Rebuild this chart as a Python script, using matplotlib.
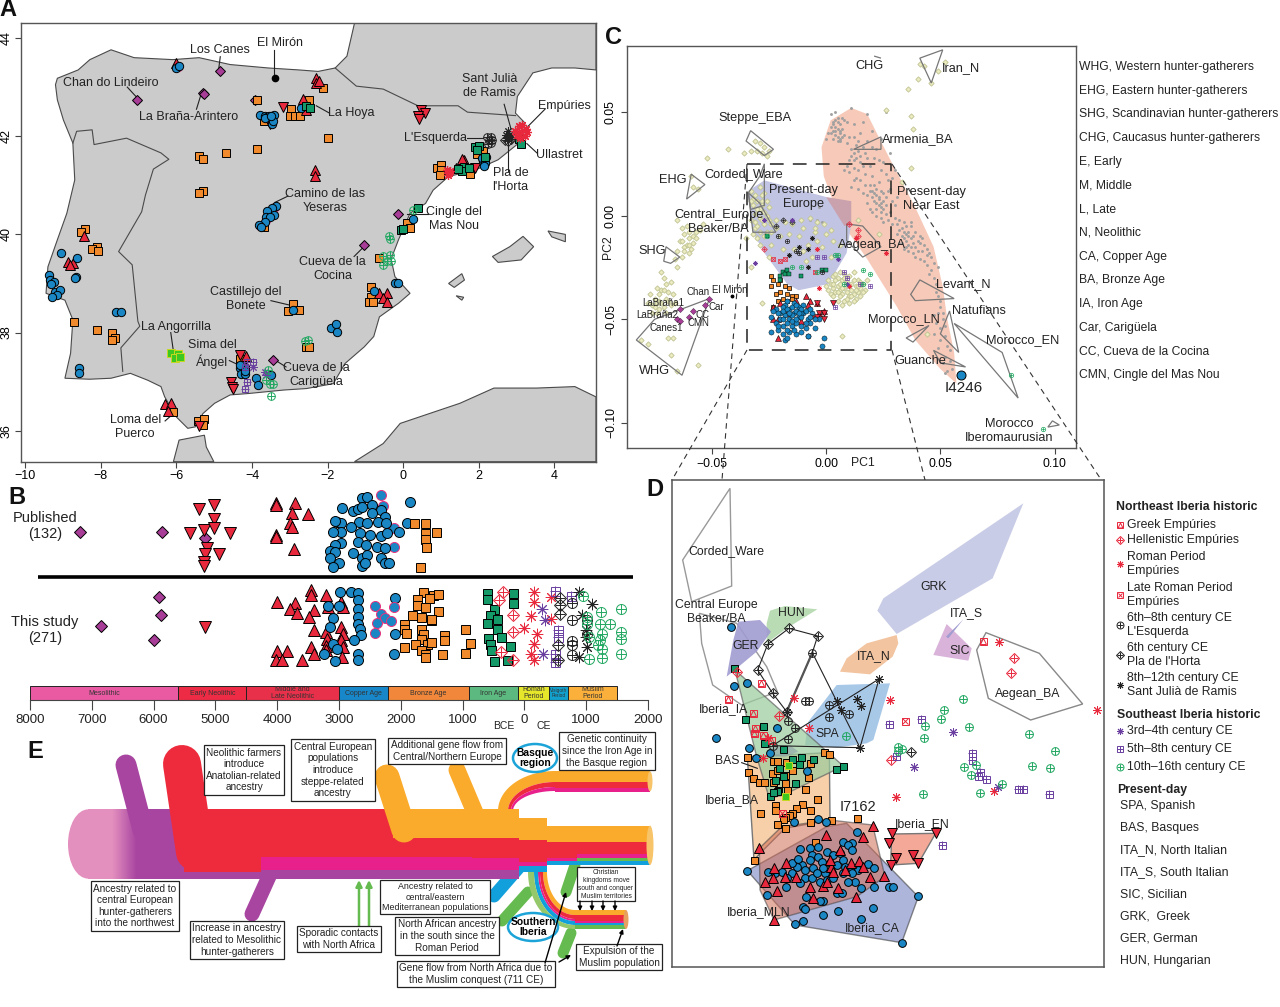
import numpy as np
import matplotlib
matplotlib.use("Agg")
import matplotlib.pyplot as plt
from matplotlib.patches import Polygon, Rectangle, Ellipse
from matplotlib.colors import LinearSegmentedColormap

plt.rcParams['font.family'] = ['Liberation Sans', 'DejaVu Sans']
W, H = 1280, 1007

BLUE = '#1a86c4'
RED = '#e8283c'
ORANGE = '#f08a2c'
PURPLE = '#a83d98'
GREEN = '#149a68'
VIOLET = '#6a3fa0'
SEGREEN = '#22a862'
PINK = '#e8327c'
STAR = (8, 2, 0)

STYLES = {
    'mes': [dict(marker='D', mfc=PURPLE, mec='k', scale=0.85)],
    'ca': [dict(marker='o', mfc=BLUE, mec='k')],
    'bell': [dict(marker='o', mfc=BLUE, mec=PINK)],
    'en': [dict(marker='v', mfc=RED, mec='k', scale=1.1)],
    'mln': [dict(marker='^', mfc=RED, mec='k', scale=1.1)],
    'ba': [dict(marker='s', mfc=ORANGE, mec='k', scale=0.9)],
    'ia': [dict(marker='s', mfc=GREEN, mec='k', scale=0.9)],
    'angor': [dict(marker='s', mfc='#3cc820', mec='#c8d820', scale=0.9)],
    'greek': [dict(marker='s', mfc='none', mec=RED, scale=0.9), dict(marker='^', mfc='none', mec=RED, scale=0.7)],
    'hell': [dict(marker='D', mfc='none', mec=RED, scale=0.85), dict(marker='+', mfc='none', mec=RED)],
    'roman': [dict(marker=STAR, mfc='none', mec=RED)],
    'late': [dict(marker='s', mfc='none', mec=RED, scale=0.9), dict(marker='x', mfc='none', mec=RED, scale=0.7)],
    'esq': [dict(marker='o', mfc='none', mec='#222222'), dict(marker='+', mfc='none', mec='#222222')],
    'pla': [dict(marker='D', mfc='none', mec='#222222', scale=0.85), dict(marker='+', mfc='none', mec='#222222')],
    'sant': [dict(marker=STAR, mfc='none', mec='#222222')],
    'se34': [dict(marker=STAR, mfc='none', mec=VIOLET)],
    'se58': [dict(marker='s', mfc='none', mec=VIOLET, scale=0.9), dict(marker='+', mfc='none', mec=VIOLET)],
    'se1016': [dict(marker='o', mfc='none', mec=SEGREEN), dict(marker='+', mfc='none', mec=SEGREEN)],
}


def mark(ax, kind, pts, ms, mew=0.7, zorder=5):
    xs = [p[0] for p in pts]
    ys = [p[1] for p in pts]
    for st in STYLES[kind]:
        st = dict(st)
        scale = st.pop('scale', 1.0)
        ax.plot(xs, ys, ls='none', ms=ms * scale, mew=mew, zorder=zorder, **st)


def panel(x0, y0, x1, y1):
    return fig.add_axes([x0 / W, 1 - y1 / H, (x1 - x0) / W, (y1 - y0) / H])


def frame(ax, color='#555555', lw=1.0):
    for sp in ax.spines.values():
        sp.set_color(color)
        sp.set_linewidth(lw)


fig = plt.figure(figsize=(12.8, 10.07), dpi=100)

# ---------- panel A, map (lon, lat)
land_main = [(-9.2, 43.05), (-9.15, 43.18), (-8.6, 43.35), (-8.29, 43.56), (-7.73, 43.76), (-7.12, 43.6), (-6.1, 43.56),
             (-5.4, 43.6), (-4.58, 43.46), (-3.57, 43.39), (-2.76, 43.35), (-2.25, 43.32), (-1.8, 43.39), (-1.49, 43.63),
             (-1.29, 44.3), (5.1, 44.3), (5.1, 43.35), (4.54, 43.39), (3.93, 43.39), (3.43, 43.29), (3.02, 42.81),
             (2.97, 42.47), (3.22, 42.27), (3.17, 41.93), (2.51, 41.52), (1.9, 41.31), (1.2, 41.18), (0.79, 40.9),
             (0.59, 40.63), (0.18, 40.43), (-0.12, 39.9), (-0.32, 39.5), (-0.22, 39.14), (0.18, 38.8), (-0.12, 38.6),
             (-0.63, 38.32), (-0.78, 37.92), (-1.03, 37.71), (-1.54, 37.37), (-1.85, 36.96), (-2.56, 36.86), (-3.16, 36.83),
             (-4.08, 36.76), (-4.58, 36.73), (-4.99, 36.56), (-5.3, 36.35), (-5.5, 36.08), (-5.7, 36.05), (-6.0, 36.28),
             (-6.31, 36.69), (-6.41, 36.9), (-6.76, 37.03), (-7.22, 37.17), (-7.73, 37.07), (-8.3, 37.05), (-8.95, 37.07),
             (-8.8, 37.58), (-8.74, 38.26), (-8.95, 38.66), (-9.45, 38.8), (-9.4, 39.34), (-9.15, 39.89), (-8.9, 40.43),
             (-8.69, 41.11), (-8.74, 41.86), (-8.99, 42.33), (-9.15, 42.74)]
africa_west = [(-6.08, 35.37), (-5.93, 35.81), (-5.26, 35.91), (-5.21, 35.67), (-5.01, 35.37)]
africa_east = [(-1.29, 35.37), (-0.53, 35.74), (-0.08, 36.15), (0.69, 36.35), (1.5, 36.56), (2.4, 36.87), (3.53, 36.87),
               (4.54, 36.9), (5.1, 36.69), (5.1, 35.37)]
mallorca = [(2.36, 39.55), (2.82, 39.75), (3.17, 39.96), (3.45, 39.75), (3.12, 39.48), (2.51, 39.43)]
menorca = [(3.83, 40.07), (4.29, 40.0), (4.29, 39.85), (3.93, 39.95)]
ibiza = [(1.2, 39.0), (1.55, 39.2), (1.62, 39.07), (1.35, 38.92)]
formentera = [(1.4, 38.75), (1.6, 38.72), (1.55, 38.66)]
border_portugal = [(-8.74, 41.86), (-8.64, 42.1), (-8.23, 42.13), (-8.18, 41.83), (-7.32, 41.96), (-6.41, 41.66), (-6.2, 41.53),
                   (-6.61, 41.33), (-6.82, 40.8), (-6.92, 40.46), (-7.53, 39.65), (-7.17, 39.38), (-7.02, 38.23), (-6.97, 38.13),
                   (-7.47, 37.69), (-7.42, 37.21)]
border_france = [(-1.8, 43.39), (-1.24, 43.02), (-0.53, 42.96), (0.39, 42.62), (1.45, 42.62), (1.7, 42.49), (2.97, 42.42)]

map_mes = [(-7.04, 42.73), (-5.31, 42.89), (-5.26, 42.85), (-4.86, 43.32), (-1.03, 39.79), (-0.13, 40.42), (-3.44, 37.45), (-3.92, 42.73)]
map_en = [(-3.18, 42.6), (0.46, 42.54), (0.57, 42.47), (0.4, 42.42), (0.43, 42.36), (-3.52, 42.25), (1.91, 41.35), (-4.56, 37.0),
          (-4.53, 36.9), (-4.5, 36.86), (-4.31, 37.54), (-5.4, 36.09)]
map_mln = [(-6.02, 43.5), (-2.3, 43.18), (-2.3, 43.08), (-2.23, 43.12), (-2.64, 42.76), (-2.56, 42.54), (-2.33, 41.31), (-2.33, 41.18),
           (1.6, 41.52), (1.55, 41.53), (1.4, 41.35), (-8.44, 39.97), (-8.86, 39.43), (-8.74, 39.41), (-8.81, 39.38), (-0.63, 38.8),
           (-0.43, 38.8), (-0.53, 38.7), (-0.43, 38.63), (-4.15, 37.52), (-6.31, 36.54), (-6.14, 36.56), (-6.21, 36.41)]
map_ca = [(-6.0, 43.38), (-5.92, 43.44), (-3.79, 42.44), (-3.67, 42.42), (-3.52, 42.37), (-3.42, 42.44), (-3.47, 42.25), (-3.6, 42.4),
          (-3.55, 42.42), (-3.65, 42.38), (-3.45, 42.3), (-3.5, 42.42), (2.12, 41.5),
          (-2.71, 42.57), (-3.37, 40.58), (-3.47, 40.53), (-3.6, 40.47), (-3.62, 40.36), (-3.42, 40.4), (-3.52, 40.36), (-3.67, 40.26),
          (-3.82, 40.19), (-3.77, 40.15), (2.08, 41.55), (2.16, 41.45), (2.13, 41.4), (2.19, 41.57), (-9.05, 39.63), (-8.63, 39.51),
          (-8.67, 39.14), (-8.69, 39.11), (-9.38, 39.18), (-9.35, 39.07), (-9.25, 39.04), (-9.32, 38.99), (-9.2, 38.83), (-9.08, 38.87),
          (-9.15, 38.77), (-9.3, 38.72), (-7.61, 38.41), (-7.47, 38.41), (-8.59, 37.27), (-8.59, 37.18), (0.26, 40.31), (-0.22, 39.0),
          (-0.15, 39.01), (-0.78, 38.85), (-2.91, 38.46), (-1.9, 38.1), (-1.77, 38.17), (-1.76, 38.02), (-4.33, 37.27), (-4.18, 37.3),
          (-4.3, 37.15), (-4.18, 37.15), (-4.33, 37.33), (-4.18, 37.22), (-3.89, 37.07), (-3.85, 36.93), (-3.5, 37.13)]
map_bell = [(-3.4, 40.55), (-3.58, 40.42), (-3.5, 40.45), (-3.8, 40.17), (-3.63, 40.3), (-5.97, 43.42)]
map_ba = [(-3.87, 42.74), (-2.5, 42.73), (-2.96, 42.55), (-2.99, 42.42), (-2.86, 42.42), (-2.73, 42.42), (-2.12, 42.99), (-2.0, 41.97),
          (-3.87, 41.74), (-4.69, 41.65), (-5.4, 41.59), (-5.31, 41.53), (-5.31, 40.89), (-5.4, 40.85), (-3.69, 42.32), (-3.69, 40.16),
          (-8.42, 40.11), (-8.52, 40.04), (-8.11, 39.75), (-8.24, 39.7), (-8.08, 39.67), (-8.71, 38.21), (-8.11, 38.06), (-7.7, 38.0),
          (-7.63, 37.88), (-7.71, 37.85), (-2.91, 38.58), (-2.76, 38.46), (-3.06, 38.43), (-0.85, 38.92), (-0.85, 38.73), (-0.91, 38.63),
          (-0.81, 38.63), (-0.63, 39.51), (0.11, 40.23), (0.18, 40.13), (0.89, 41.35), (1.01, 41.42), (0.99, 41.31), (0.96, 41.2),
          (2.11, 41.69), (1.96, 41.64), (1.76, 41.23), (-2.56, 37.7), (-2.48, 37.71), (-4.31, 37.47), (-5.43, 36.2), (-5.26, 36.23),
          (-5.31, 36.11), (-6.09, 36.38)]
map_ia = [(-2.56, 42.62), (-2.46, 42.57), (1.91, 41.79), (2.01, 41.81), (1.94, 41.72), (1.6, 41.38), (1.55, 41.3), (1.75, 41.35),
          (1.45, 41.33), (2.16, 41.57), (3.07, 41.94), (3.12, 41.84), (0.39, 40.53), (-0.07, 40.08), (0.0, 40.1)]
map_angor = [(-6.14, 37.58), (-5.95, 37.56), (-6.05, 37.49), (-5.9, 37.51)]
map_roman = [(2.95, 42.1), (3.05, 42.2), (3.15, 42.22), (3.25, 42.15), (3.0, 42.02), (3.12, 42.08), (3.22, 42.0), (3.1, 41.97),
             (3.28, 42.08), (1.15, 41.32), (1.2, 41.25), (1.25, 41.3), (1.18, 41.2)]
map_esq = [(2.21, 41.98), (2.27, 41.92), (2.33, 41.98), (2.25, 41.85), (2.32, 41.87), (2.36, 41.93)]
map_sant = [(2.78, 42.1), (2.8, 42.03), (2.75, 41.97), (2.85, 41.98), (2.72, 42.02)]
map_pla = [(2.7, 41.93), (2.78, 41.9), (2.85, 41.95)]
map_se58 = [(-3.98, 37.41), (-4.13, 37.41), (-4.18, 37.3), (-4.13, 37.0), (-4.18, 36.86)]
map_se34 = [(-3.98, 37.3), (-3.67, 37.2), (-3.62, 37.13)]
map_se1016 = [(-0.38, 39.96), (-0.35, 39.9), (-0.53, 39.55), (-0.35, 39.58), (-0.43, 39.45), (-0.53, 39.38), (-0.33, 39.45), (0.26, 40.5),
              (-2.59, 37.83), (-2.53, 37.85), (-3.57, 37.24), (-3.52, 36.96), (-3.62, 37.03), (-3.45, 36.96), (-3.49, 36.71)]
map_mirón = [(-3.4, 43.18)]

map_labels = [("Los Canes", -4.84, 43.76), ("El Mirón", -3.27, 43.9), ("Chan do Lindeiro", -7.73, 43.08), ("La Braña-Arintero", -5.67, 42.4),
              ("La Hoya", -1.37, 42.47), ("Sant Julià\nde Ramis", 2.29, 43.03), ("Empúries", 4.26, 42.62), ("L'Esquerda", 0.86, 41.97),
              ("Ullastret", 4.12, 41.61), ("Pla de\nl'Horta", 2.84, 41.11), ("Camino de las\nYeseras", -2.07, 40.68),
              ("Cingle del\nMas Nou", 1.35, 40.32), ("Cueva de la\nCocina", -1.87, 39.3), ("Castillejo del\nBonete", -4.16, 38.68),
              ("La Angorrilla", -6.0, 38.12), ("Sima del\nÁngel", -5.06, 37.56), ("Cueva de la\nCarigüela", -2.3, 37.13),
              ("Loma del\nPuerco", -7.09, 36.08)]
map_leaders = [[(-4.84, 43.62), (-4.88, 43.38)], [(-3.42, 43.75), (-3.42, 43.25)], [(-7.3, 43.0), (-7.06, 42.8)], [(-5.47, 42.55), (-5.35, 42.85)],
               [(-1.95, 42.47), (-2.3, 42.62)], [(2.67, 42.65), (2.85, 42.15)], [(3.75, 42.55), (3.3, 42.2)], [(1.7, 41.97), (2.1, 41.97)],
               [(3.55, 41.65), (3.27, 41.85)], [(2.78, 41.3), (2.78, 41.85)], [(-3.05, 40.78), (-3.4, 40.65)], [(0.65, 40.42), (0.1, 40.42)],
               [(-1.3, 39.55), (-1.08, 39.72)], [(-3.5, 38.65), (-2.95, 38.55)], [(-6.15, 38.0), (-6.08, 37.62)], [(-4.6, 37.43), (-4.38, 37.35)],
               [(-3.1, 37.3), (-3.37, 37.43)], [(-6.3, 36.2), (-6.08, 36.35)]]

ax_a = panel(20.7, 23.3, 596, 461.7)
ax_a.set_xlim(-10.12, 5.1)
ax_a.set_ylim(35.37, 44.3)
for poly in [land_main, africa_west, africa_east, mallorca, menorca, ibiza, formentera]:
    ax_a.add_patch(Polygon(poly, closed=True, fc='#cbcbcb', ec='#4a4a4a', lw=0.8, zorder=1))
for line in [border_portugal, border_france]:
    ax_a.plot([p[0] for p in line], [p[1] for p in line], color='#4a4a4a', lw=0.8, zorder=2)
for seg in map_leaders:
    ax_a.plot([seg[0][0], seg[1][0]], [seg[0][1], seg[1][1]], color='#222222', lw=0.8, zorder=4)
mark(ax_a, 'mes', map_mes, 6)
mark(ax_a, 'ba', map_ba, 6)
mark(ax_a, 'mln', map_mln, 6.5)
mark(ax_a, 'en', map_en, 6.5)
mark(ax_a, 'bell', map_bell, 6)
mark(ax_a, 'ca', map_ca, 6)
mark(ax_a, 'ia', map_ia, 6)
mark(ax_a, 'angor', map_angor, 6)
mark(ax_a, 'se58', map_se58, 5.5)
mark(ax_a, 'se34', map_se34, 6)
mark(ax_a, 'se1016', map_se1016, 5.5)
mark(ax_a, 'esq', map_esq, 5.5)
mark(ax_a, 'pla', map_pla, 5.5)
mark(ax_a, 'sant', map_sant, 6)
mark(ax_a, 'roman', map_roman, 6.5, mew=0.9)
ax_a.plot([p[0] for p in map_mirón], [p[1] for p in map_mirón], 'o', color='k', ms=4.5, zorder=6)
for txt, lx, ly in map_labels:
    ax_a.text(lx, ly, txt, ha='center', va='center', fontsize=9, color='#222222', linespacing=1.25, zorder=8)
ax_a.set_xticks([-10, -8, -6, -4, -2, 0, 2, 4])
ax_a.set_xticklabels(['−10', '−8', '−6', '−4', '−2', '0', '2', '4'])
ax_a.set_yticks([36, 38, 40, 42, 44])
ax_a.tick_params(axis='both', labelsize=9, length=4, width=0.8, color='#444444', pad=2)
plt.setp(ax_a.get_yticklabels(), rotation=90, va='center')
frame(ax_a)

# ---------- panel B, dates (year, row)
pub_mes = [(-7190, 157), (-5870, 157), (-5170, 175)]
pub_en = [(-5267, 87), (-5029, 75), (-5029, 118), (-5403, 160), (-5185, 150), (-5029, 145), (-4770, 160), (-5131, 205), (-4947, 222),
          (-5171, 222), (-5192, 245), (-5192, 258)]
pub_mln = [(-4015, 68), (-3709, 68), (-4015, 75), (-3757, 100), (-3505, 103), (-3791, 128), (-3757, 140), (-4015, 165), (-4015, 170), (-3723, 207)]
pub_ca = [(-2949, 85), (-2779, 92), (-2629, 55), (-2547, 50), (-2459, 75), (-2323, 90), (-2697, 88), (-2629, 80), (-2459, 100), (-2255, 112),
          (-3037, 125), (-2969, 130), (-3071, 122), (-2677, 125), (-2547, 130), (-2370, 125), (-2234, 130), (-2030, 157), (-2323, 168), (-2221, 160),
          (-2969, 155), (-3105, 155), (-2799, 140), (-2663, 160), (-2493, 165), (-2697, 185), (-2561, 195), (-2391, 200), (-2255, 205), (-2969, 190),
          (-3071, 195), (-3153, 212), (-3058, 215), (-2779, 218), (-2629, 235), (-2547, 225), (-2323, 235), (-2255, 248), (-2187, 250), (-3153, 235),
          (-3003, 250), (-3105, 262), (-2629, 258), (-2575, 250), (-1846, 65), (-1901, 128)]
pub_bell = [(-2323, 45), (-2289, 78), (-2118, 145), (-2118, 200)]
pub_ba = [(-1785, 128), (-1615, 128), (-1615, 158), (-1438, 157), (-1615, 178), (-1595, 200), (-1696, 262)]

new_mes = [(-5910, 350), (-5883, 405), (-6850, 437), (-5998, 478)]
new_en = [(-5168, 440)]
new_mln = [(-3446, 330), (-3446, 345), (-3207, 345), (-4011, 367), (-3718, 370), (-3786, 385), (-3412, 390), (-3173, 380), (-2969, 365),
           (-2935, 380), (-3684, 398), (-3493, 410), (-3412, 450), (-3207, 455), (-2969, 440), (-2935, 460), (-3187, 475), (-3446, 500),
           (-3207, 498), (-2969, 480), (-2935, 500), (-3412, 520), (-3207, 510), (-4011, 513), (-3834, 513), (-4025, 540), (-3923, 540),
           (-3602, 538), (-2955, 530)]
new_ca = [(-2983, 337), (-2799, 337), (-2697, 340), (-2697, 360), (-2697, 385), (-3173, 378), (-3003, 378), (-2697, 410), (-2697, 430),
          (-3105, 413), (-3139, 440), (-2663, 445), (-2643, 465), (-2752, 478), (-3105, 490), (-3241, 520), (-3037, 505), (-3058, 543),
          (-2697, 520), (-2697, 540), (-2098, 354), (-2098, 462), (-2105, 520)]
new_bell = [(-2425, 378), (-2118, 380), (-2323, 400), (-2255, 412), (-2391, 428), (-2166, 422), (-2411, 458)]
new_ba = [(-1642, 337), (-1472, 345), (-1403, 343), (-1744, 358), (-1540, 355), (-1744, 375), (-1608, 380), (-1403, 392), (-1812, 405),
          (-1676, 410), (-1506, 420), (-1948, 430), (-1676, 445), (-1506, 415), (-1948, 445), (-1914, 458), (-1642, 460), (-1302, 465),
          (-961, 447), (-1676, 475), (-1302, 480), (-880, 488), (-1948, 500), (-1778, 490), (-1574, 490), (-1506, 485), (-1676, 510),
          (-1608, 520), (-1336, 520), (-961, 518), (-1608, 530)]
new_ia = [(-601, 340), (-601, 357), (-192, 340), (-192, 368), (-485, 385), (-553, 405), (-451, 415), (-451, 445), (-601, 428), (-587, 472),
          (-383, 470), (-553, 490), (-533, 510), (-226, 497), (-485, 543), (-281, 540)]
new_hell = [(-349, 335), (-417, 360), (-192, 405), (-192, 455), (-383, 515), (-178, 540)]
new_roman = [(149, 337), (149, 367), (108, 408), (-8, 442), (196, 462), (149, 490), (108, 520), (149, 540), (434, 350), (434, 415)]
new_se34 = [(285, 385), (332, 420), (298, 520)]
new_se58 = [(488, 333), (761, 348), (536, 450), (536, 470), (488, 520), (488, 545)]
new_pla = [(570, 355), (570, 375), (570, 400), (536, 495), (536, 540)]
new_esq = [(774, 368), (774, 420), (774, 483), (774, 495), (774, 525), (1013, 420), (1013, 460)]
new_sant = [(877, 337), (1101, 372), (931, 405), (999, 450), (999, 470), (1013, 500), (877, 530)]
new_se1016 = [(945, 347), (1237, 395), (1013, 410), (1217, 430), (1387, 430), (1013, 430), (1251, 460), (1047, 470), (1217, 480), (1557, 385),
              (1557, 455), (1557, 475), (1557, 520), (1251, 505), (1251, 533), (1047, 535), (1183, 495)]

period_names = ['Mesolithic', 'Early Neolithic', 'Middle and\nLate Neolithic', 'Copper Age', 'Bronze Age', 'Iron Age', 'Roman\nPeriod',
                'Visigoth\nPeriod', 'Muslim\nPeriod']
period_start = [-8000, -5600, -4500, -3000, -2200, -900, -100, 400, 700]
period_end = [-5600, -4500, -3000, -2200, -900, -100, 400, 700, 1500]
period_cols = ['#ea5aa3', '#ee2b44', '#e8304a', '#1787c9', '#f0873a', '#5cba80', '#e6e62a', '#12a0cc', '#fbb03b']
time_ticks = [-8000, -7000, -6000, -5000, -4000, -3000, -2000, -1000, 0, 1000, 2000]
time_labels = ['8000', '7000', '6000', '5000', '4000', '3000', '2000', '1000', '0', '1000', '2000']

ax_b = panel(0, 480, 660, 730)
x_per_px = 10000 / (648 - 30)
ax_b.set_xlim(-8000 - 30 * x_per_px, -8000 + 630 * x_per_px)
ax_b.set_ylim(749, 0)
ax_b.patch.set_alpha(0)
for sp in ['top', 'left', 'right']:
    ax_b.spines[sp].set_visible(False)
ax_b.spines['bottom'].set_visible(False)
ax_b.plot([-7871, 1750], [291, 291], color='k', lw=2.6, solid_capstyle='butt')
for col, s, e, nm in zip(period_cols, period_start, period_end, period_names):
    ax_b.barh(638.5, e - s, left=s, height=43, color=col, edgecolor='#222222', linewidth=0.7)
    fs = 3.4 if nm.startswith('Visigoth') else 5
    ax_b.text((s + e) / 2, 638.5, nm, ha='center', va='center', fontsize=fs, color='#333333', linespacing=0.95)
ax_b.plot([-8000, 2000], [660, 660], color='#444444', lw=0.8)
ax_b.vlines(time_ticks, 660, 690, color='#444444', lw=0.8)
for t, lb in zip(time_ticks, time_labels):
    ax_b.text(t, 720, lb, ha='center', va='center', fontsize=9.5, color='#222222')
ax_b.text(-340, 736, 'BCE', ha='center', va='center', fontsize=7.5, color='#222222')
ax_b.text(310, 736, 'CE', ha='center', va='center', fontsize=7.5, color='#222222')
ax_b.text(-7760, 137, 'Published\n(132)', ha='center', va='center', fontsize=10.5, color='#222222', linespacing=1.2)
ax_b.text(-7760, 450, 'This study\n(271)', ha='center', va='center', fontsize=10.5, color='#222222', linespacing=1.2)
ax_b.set_xticks([])
ax_b.set_yticks([])
ms_b = 7.2
mark(ax_b, 'mes', pub_mes, ms_b)
mark(ax_b, 'en', pub_en, ms_b + 0.8)
mark(ax_b, 'mln', pub_mln, ms_b + 0.8)
mark(ax_b, 'bell', pub_bell, ms_b)
mark(ax_b, 'ca', pub_ca, ms_b)
mark(ax_b, 'ba', pub_ba, ms_b)
mark(ax_b, 'mes', new_mes, ms_b)
mark(ax_b, 'en', new_en, ms_b + 0.8)
mark(ax_b, 'mln', new_mln, ms_b + 0.8)
mark(ax_b, 'ca', new_ca, ms_b)
mark(ax_b, 'bell', new_bell, ms_b)
mark(ax_b, 'ba', new_ba, ms_b)
mark(ax_b, 'ia', new_ia, ms_b)
mark(ax_b, 'hell', new_hell, ms_b)
mark(ax_b, 'roman', new_roman, ms_b + 1)
mark(ax_b, 'se34', new_se34, ms_b + 1)
mark(ax_b, 'se58', new_se58, ms_b)
mark(ax_b, 'pla', new_pla, ms_b)
mark(ax_b, 'esq', new_esq, ms_b)
mark(ax_b, 'sant', new_sant, ms_b + 1)
mark(ax_b, 'se1016', new_se1016, ms_b)

# ---------- panel C, PCA (values in PC units x 1000)
near_east_hull = [(11, 52), (18, 49), (23, 38), (29, 25), (39, 4), (47, -15), (51, -34), (53, -50), (56, -66), (57, -81), (50, -74), (39, -60),
                  (31, -44), (18, -21), (6, -2), (-1, 19), (-2, 33), (2, 46)]
europe_hull = [(-34, 12), (-27, 17), (0, 9), (11, -4), (9, -18), (1, -33), (-12, -36), (-17, -33), (-27, -18), (-32, -8)]
overlap_hull = [(0, 9), (11, 7), (11, -4), (8, -5)]
box_x = [-34.5, 28.6, 28.6, -34.5, -34.5]
box_y = [24.9, 24.9, -64.8, -64.8, 24.9]
gray_pts = [(3, 44), (4, 46), (5, 42), (6, 40), (4, 39), (3, 41), (6, 44), (5, 47), (2, 43), (7, 42), (5, 38), (3, 37), (6, 36), (8, 46), (7, 38),
            (11, 32), (12, 30), (13, 28), (14, 31), (12, 27), (15, 29), (16, 33), (14, 36), (13, 34), (11, 29), (17, 30), (15, 26), (18, 28), (10, 27),
            (9, 24), (16, 24), (12, 23), (14, 22), (10, 21), (8, 22), (17, 20), (19, 24), (20, 19), (19, 15), (22, 10), (23, 8), (24, 6), (25, 7),
            (23, 5), (24, 4), (22, 3), (25, 3), (26, 5), (24, 2), (23, 9), (26, 9), (21, 7), (25, 11), (27, 12), (26, 1), (24, 12), (22, 13), (23, 16),
            (21, 15), (28, 13), (20, 2), (18, 6), (19, 3), (33, -6), (34, -8), (35, -9), (36, -10), (35, -12), (33, -10), (37, -11), (38, -13), (36, -8),
            (34, -11), (32, -13), (39, -15), (37, -15), (41, -13), (43, -14), (44, -16), (45, -18), (46, -20), (42, -17), (40, -17), (47, -23), (49, -25),
            (31, -4), (30, -1), (34, -3), (29, -4), (37, -5), (39, -8), (41, -10), (48, -37), (50, -44), (51, -50), (52, -58), (53, -63), (52, -68),
            (54, -70), (55, -74), (53, -75), (49, -64), (47, -57), (50, -54), (11, 52), (18, 49), (26, 50), (12, 44), (16, 45), (20, 41), (24, 37),
            (22, 32), (28, 30), (25, 26), (30, 22), (-4, -2), (-2, -3), (-7, -2), (-3, 4),
            (2, 49), (4, 50), (7, 47), (9, 45), (1, 40), (0, 37), (8, 39), (9, 35), (10, 38), (12, 38), (15, 40), (18, 36), (20, 33), (21, 28), (23, 27),
            (24, 22), (26, 20), (27, 17), (29, 18), (13, 18), (15, 17), (17, 15), (19, 12), (20, 9), (21, 11), (22, 6), (22, 0), (24, -1), (25, -3), (27, -2),
            (28, 2), (29, 7), (30, 5), (31, 9), (32, -7), (31, -9), (33, -13), (35, -15), (36, -17), (38, -18), (39, -20), (41, -21), (43, -22), (44, -24),
            (46, -26), (45, -28), (47, -30), (48, -33), (49, -39), (50, -41), (51, -47), (49, -47), (47, -48), (52, -53), (50, -60), (48, -52), (54, -65),
            (51, -71), (52, -76), (12, 17), (11, 14), (14, 13), (16, 11), (18, 10), (20, 12), (37, -3), (35, -5), (32, -2), (36, -14), (34, -16), (40, -12),
            (38, -10), (42, -11), (44, -19), (4, 43), (5, 45), (6, 41), (4, 41), (6, 37), (3, 45), (2, 40), (5, 36)]
pale_pts = [(-31, 36), (-29, 35), (-27, 33), (-30, 31), (-28, 30), (-25, 31), (-26, 29), (-33, 31), (-43, 32), (-52, 28), (-36, 30), (-33, 12), (-31, 10),
            (-29, 14), (-27, 11), (-30, 7), (-28, 7), (-32, 5), (-29, 3), (-27, 2), (-25, 4), (-31, 1), (-29, -1), (-27, -4), (-25, -2), (-33, -2), (-31, -6),
            (-29, -8), (-26, -8), (-35, -11), (-59, 19), (-58, 14), (-56, 13), (-65, -2), (-63, -6), (-62, -9), (-60, -11), (-61, -14), (-58, -13), (-59, -16),
            (-62, -15), (-64, -12), (-60, -18), (-57, -8), (-55, -7), (-54, -4), (-63, -20), (-66, -21), (-65, -25), (-72, -27), (-72, -36), (-70, -33),
            (-73, -38), (-75, -40), (-72, -42), (-70, -40), (-77, -38), (-78, -42), (-75, -44), (-73, -45), (-71, -44), (-74, -47), (-76, -47), (-68, -43),
            (-70, -47), (-66, -42), (-69, -59), (-67, -59), (-81, -60), (-78, -62), (-68, -67), (-65, -75), (-56, -72), (2, -33), (3, -35), (4, -37), (5, -34),
            (6, -36), (7, -38), (8, -35), (9, -37), (10, -39), (11, -36), (12, -38), (13, -40), (5, -30), (7, -31), (9, -32), (4, -31), (6, -39), (8, -41),
            (10, -42), (12, -41), (14, -37), (15, -39), (11, -33), (13, -34), (15, -35), (3, -29), (6, -27), (8, -28), (10, -29), (12, -27), (16, -33), (17, -36),
            (14, -31), (1, -36), (0, -34), (2, -38), (18, -31), (7, -43), (5, -41), (-24, -14), (-20, -10), (-15, -4), (-10, -6), (-5, -8), (0, -9), (-2, -15),
            (-8, -14), (-12, -10), (3, -12), (-4, -3), (-7, -1), (-1, -4), (-18, -3), (-22, -6), (-14, -16), (-6, -20), (2, -20), (6, -14), (-9, -22), (14, -2),
            (23, -9), (33, 16), (37, 23), (36, 61), (40, 66), (41, 73), (43, 72), (46, 64), (52, 74), (49, 70), (-33, -25), (-28, -42), (44, -57), (7, -58), (26, 51), (37, 48), (38, 42),
            (-32, 8), (-30, 3), (-28, 5), (-26, 7), (-31, -3), (-30, -5), (-28, -2), (-26, 0), (-24, -4), (-33, 7), (-28, 10), (-32, -9), (-30, -11), (-27, -10), (-24, -8), (-22, -2),
            (-60, -8), (-61, -5), (-58, -10), (-63, -12), (-60, -14), (-57, -11), (-62, -17), (-65, -17), (-68, -32), (-71, -30), (-74, -35), (-69, -37), (-76, -43), (-73, -41),
            (-69, -41), (-67, -38), (-71, -36), (-74, -42), (4, -28), (6, -33), (8, -30), (10, -34), (12, -31), (14, -34), (3, -33), (5, -37), (7, -35), (9, -40), (11, -39), (13, -36),
            (15, -32), (16, -37), (1, -31), (3, -39), (-10, -17), (-4, -12), (2, -7), (-16, -9), (-19, -16), (-25, -20), (-29, -14), (-11, -2), (-5, -6)]
hulls_c = {
    'Iran_N': [(41, 76), (51, 80), (46, 64)], 'Steppe_EBA': [(-33, 41), (-23, 32), (-27, 29), (-35, 36)], 'Armenia_BA': [(12, 32), (24, 38), (24, 32)],
    'EHG': [(-59, 20), (-53, 15), (-61, 8)], 'Corded_Ware': [(-27, 25), (-27, 5), (-33, 3), (-34, 11), (-29, 19)],
    'Beaker': [(-34, 11), (-32, -8), (-22, -8), (-29, 6)], 'SHG': [(-70, -15), (-64, -20), (-68, -23), (-71, -22)],
    'WHG': [(-83, -60), (-75, -50), (-51, -40), (-63, -77)], 'Aegean_BA': [(9, -4), (16, -5), (24, -15), (16, -20), (9, -12)],
    'Levant_N': [(41, -31), (56, -40), (39, -41), (37, -38)], 'Natufians': [(54, -46), (58, -66), (50, -57)],
    'Morocco_EN': [(56, -52), (77, -66), (84, -88)], 'Morocco_LN': [(45, -53), (38, -61), (35, -59)], 'Guanche': [(47, -65), (61, -73), (50, -71)],
    'Iberomaurusian': [(99, -99), (102, -101), (97, -102)], 'CHG': [(21, 77), (24, 76)],
}
c_mes = [(-64, -45), (-53, -43), (-51, -40), (-58, -46), (-60, -49), (-65, -50), (-64, -51)]
c_miron = [(-41, -39)]
c_i4246 = [(59, -77)]
c_ca = [(-24, -49), (-22, -45), (-20, -47), (-18, -43), (-16, -45), (-14, -42), (-12, -44), (-10, -43), (-20, -50), (-18, -48), (-16, -50), (-14, -47),
        (-12, -49), (-10, -47), (-8, -50), (-6, -47), (-22, -52), (-19, -53), (-17, -52), (-15, -53), (-13, -52), (-11, -53), (-9, -54), (-19, -57), (-16, -56),
        (-13, -57), (-8, -58), (-5, -54), (-3, -50), (-18, -60), (-17, -59), (-8, -58), (-1, -59), (-2, -63), (-24, -56), (-21, -55), (-7, -52), (-15, -48),
        (-11, -47), (-13, -46), (-23, -46), (-19, -44), (-17, -41), (-15, -44), (-13, -43), (-11, -45), (-9, -46), (-7, -45), (-19, -46), (-17, -45), (-21, -47),
        (-15, -51), (-13, -50), (-11, -49), (-9, -52), (-7, -49), (-5, -50), (-21, -53), (-14, -55), (-11, -56), (-17, -55), (-19, -50), (-16, -47), (-12, -47)]
c_mln = [(-23, -44), (-20, -42), (-21, -50), (-17, -47), (-13, -41), (-9, -39), (-7, -41), (-4, -42), (-6, -48), (-3, -47), (-1, -46), (-23, -50), (-21, -59),
         (-8, -43), (-11, -51)]
c_en = [(3, -42), (-4, -42), (-3, -47), (-1, -47), (-1, -50), (-4, -49)]
c_ba = [(-24, -29), (-23, -31), (-21, -33), (-24, -34), (-20, -31), (-18, -34), (-16, -35), (-20, -37), (-22, -38), (-17, -38), (-15, -39), (-19, -40), (-21, -41),
        (-13, -39), (-23, -44), (-15, -40), (-17, -41)]
c_ia = [(-26, -10), (-19, -27), (-20, -29), (-18, -28), (-17, -26), (-20, -31), (-16, -28), (-11, -29), (-2, -26), (0, -26)]
c_roman = [(-4, -16), (13, -11), (26, -18), (-3, -35), (10, -34)]
c_hell = [(10, -4), (14, -7), (14, -10), (-27, -16)]
c_late = [(-23, -21), (-20, -22), (-18, -21), (-5, -27)]
c_sant = [(-12, -15), (-8, -16), (-6, -11), (-8, -25), (-16, -19)]
c_esq = [(-13, -17), (-12, -18), (-17, -12), (-21, -10), (-2, -27)]
c_pla = [(-19, -2), (-15, -3), (-22, -5)]
c_se34 = [(-27, -2), (-31, -23), (-15, -2), (5, -21), (9, -33)]
c_se58 = [(-4, -20), (-1, -20), (8, -27), (15, -33), (19, -34), (9, -30), (4, -44)]
c_se1016 = [(5, -19), (4, -19), (-26, -10), (-15, -25), (-11, -25), (-4, -27), (16, -26), (19, -28), (8, -33), (16, -33), (81, -77), (95, -103)]

c_labels = [("CHG", 19, 72, 9.2), ("Iran_N", 59, 71, 9.2), ("Steppe_EBA", -31, 47, 9.2), ("Armenia_BA", 40, 37, 9.2), ("Corded_Ware", -36, 20, 9.2), ("EHG", -67, 17, 9.2),
            ("Present-day\nEurope", -10, 9, 9.2), ("Present-day\nNear East", 46, 8, 9.2), ("Central_Europe\nBeaker/BA", -47, -3, 9.2), ("SHG", -76, -17, 9.2),
            ("Aegean_BA", 20, -14, 9.2), ("Levant_N", 60, -33, 9.2), ("Natufians", 67, -46, 9.2), ("Morocco_LN", 34, -50, 9.2), ("Morocco_EN", 86, -60, 9.2),
            ("Guanche", 41, -70, 9.2), ("I4246", 60, -83, 11), ("Morocco\nIberomaurusian", 80, -104, 9.2), ("WHG", -75, -75, 9.2), ("Chan", -56, -37, 7),
            ("El Mirón", -42, -36, 7), ("LaBraña1", -71, -42, 7), ("LaBraña2", -74, -48, 7), ("Car", -48, -44, 7), ("CC", -54, -48, 7), ("CMN", -56, -52, 7), ("Canes1", -70, -54, 7)]
c_key = ["WHG, Western hunter-gatherers", "EHG, Eastern hunter-gatherers", "SHG, Scandinavian hunter-gatherers", "CHG, Caucasus hunter-gatherers",
         "E, Early", "M, Middle", "L, Late", "N, Neolithic", "CA, Copper Age", "BA, Bronze Age", "IA, Iron Age", "Car, Carigüela", "CC, Cueva de la Cocina",
         "CMN, Cingle del Mas Nou"]


def milli(pts):
    return [(p[0] / 1000, p[1] / 1000) for p in pts]


ax_c = panel(626.7, 45.7, 1076, 448)
ax_c.set_xlim(-0.0872, 0.1093)
ax_c.set_ylim(-0.1121, 0.082)
ax_c.add_patch(Polygon(milli(near_east_hull), closed=True, fc='#f7c9b8', ec='none', zorder=1))
ax_c.add_patch(Polygon(milli(europe_hull), closed=True, fc='#c1c4e2', ec='none', zorder=1.1))
ax_c.add_patch(Polygon(milli(overlap_hull), closed=True, fc='#c9a2ae', ec='none', zorder=1.2))
ax_c.plot(*zip(*milli(gray_pts)), ls='none', marker='o', ms=2.1, color='#a0a0a0', mew=0, zorder=2)
ax_c.plot(*zip(*milli(pale_pts)), ls='none', marker='D', ms=2.7, mfc='#ecebc0', mec='#bfc492', mew=0.6, zorder=2)
for nm, hull in hulls_c.items():
    ax_c.add_patch(Polygon(milli(hull), closed=len(hull) > 2, fc='none', ec='#777777', lw=0.9, zorder=3))
ax_c.plot(np.array(box_x) / 1000, np.array(box_y) / 1000, color='#222222', lw=1.1, dashes=(9, 6), zorder=3)
mark(ax_c, 'mes', milli(c_mes), 3.8, mew=0.2)
ax_c.plot(*zip(*milli(c_miron)), ls='none', marker='o', ms=1.8, color='k', zorder=6)
mark(ax_c, 'ca', milli(c_i4246), 6.5)
mark(ax_c, 'ba', milli(c_ba), 3.6, mew=0.5)
mark(ax_c, 'mln', milli(c_mln), 3.8, mew=0.4)
mark(ax_c, 'en', milli(c_en), 3.8, mew=0.4)
mark(ax_c, 'ca', milli(c_ca), 3.7, mew=0.3)
mark(ax_c, 'ia', milli(c_ia), 3.4, mew=0.3)
mark(ax_c, 'roman', milli(c_roman), 3.6, mew=0.5)
mark(ax_c, 'hell', milli(c_hell), 3.4, mew=0.5)
mark(ax_c, 'late', milli(c_late), 3.2, mew=0.5)
mark(ax_c, 'sant', milli(c_sant), 3.6, mew=0.5)
mark(ax_c, 'esq', milli(c_esq), 3.2, mew=0.5)
mark(ax_c, 'pla', milli(c_pla), 3.2, mew=0.5)
mark(ax_c, 'se34', milli(c_se34), 3.4, mew=0.5)
mark(ax_c, 'se58', milli(c_se58), 3.2, mew=0.5)
mark(ax_c, 'se1016', milli(c_se1016), 3.2, mew=0.5)
for txt, lx, ly, fs in c_labels:
    ax_c.text(lx / 1000, ly / 1000, txt, ha='center', va='center', fontsize=fs, color='#222222', linespacing=1.25, zorder=8)
ax_c.set_xticks([-0.05, 0, 0.05, 0.10])
ax_c.set_xticklabels(['−0.05', '0.00', '0.05', '0.10'])
ax_c.set_yticks([-0.10, -0.05, 0, 0.05])
ax_c.set_yticklabels(['−0.10', '−0.05', '0.00', '0.05'])
ax_c.tick_params(axis='both', labelsize=8.8, length=4, width=0.8, color='#444444', pad=3)
plt.setp(ax_c.get_yticklabels(), rotation=90, va='center')
frame(ax_c)

# ---------- panel D, enlarged part of C (panel-local units, no scale drawn)
d_regions = [
    ('Corded', [(180, 25), (185, 318), (65, 365), (38, 240)], 'none', '#999999', 1, 2),
    ('Beaker', [(88, 400), (95, 490), (128, 615), (215, 675), (322, 635), (290, 560), (200, 430)], 'none', '#999999', 1, 2),
    ('HUN', [(300, 392), (345, 378), (442, 388), (350, 445), (290, 490), (290, 430)], '#b9dcb4', 'none', 1, 2),
    ('GER', [(205, 425), (270, 420), (303, 455), (260, 515), (170, 590), (190, 480)], '#a09bd0', 'none', 0.9, 2.1),
    ('GRK', [(1060, 70), (968, 295), (680, 462), (622, 392), (640, 355)], '#c9cce6', 'none', 1, 2),
    ('ITA_N', [(680, 465), (685, 490), (668, 530), (600, 583), (510, 575), (530, 535), (590, 490)], '#f2c4a0', 'none', 1, 2),
    ('ITA_S', [(880, 418), (835, 475), (828, 470)], '#a09bd0', 'none', 1, 2.2),
    ('SIC', [(830, 432), (905, 505), (895, 542), (790, 525)], '#d9b3d9', 'none', 1, 2),
    ('Aegean', [(948, 458), (1108, 520), (1238, 672), (1082, 720), (955, 655), (920, 510)], 'none', '#888888', 1, 2),
    ('SPA', [(500, 615), (660, 610), (610, 780), (590, 790), (500, 803), (405, 795), (415, 725)], '#a8c8e8', 'none', 1, 2),
    ('BA', [(232, 830), (478, 818), (480, 1020), (345, 1045), (280, 1110), (252, 1140)], '#f7cfa8', '#777777', 1, 2.2),
    ('IA', [(195, 570), (520, 858), (340, 945), (298, 955), (260, 830)], '#9ccc9e', '#666666', 0.72, 2.3),
    ('BAS', [(300, 800), (360, 795), (385, 815), (345, 830), (290, 830)], '#8ca0a8', 'none', 0.6, 2.4),
    ('EN', [(665, 1062), (797, 1060), (745, 1150), (662, 1155)], '#f3a898', '#777777', 1, 2.2),
    ('CA', [(232, 1172), (470, 1040), (530, 1030), (745, 1250), (695, 1388), (375, 1335)], '#7c88c6', '#444444', 0.62, 2.5),
    ('MLN', [(268, 1105), (335, 1040), (480, 1020), (608, 1035), (645, 1190), (560, 1250), (312, 1320), (270, 1230)], '#cf6d55', '#444444', 0.55, 2.6),
]
d_ca = [(182, 442), (192, 618), (232, 610), (137, 773), (237, 805), (320, 745), (258, 835), (300, 818), (410, 872), (373, 1025), (445, 1017), (467, 1025),
        (560, 1055), (520, 1085), (545, 1090), (535, 1095), (390, 1108), (420, 1105), (445, 1100), (470, 1115), (490, 1125), (510, 1120), (545, 1110), (425, 1125),
        (445, 1130), (395, 1155), (380, 1160), (365, 1150), (385, 1138), (420, 1140), (455, 1145), (480, 1150), (500, 1155), (520, 1140), (540, 1165), (565, 1170),
        (595, 1152), (612, 1163), (295, 1175), (315, 1180), (335, 1175), (365, 1180), (405, 1195), (425, 1195), (450, 1205), (465, 1180), (520, 1180), (545, 1180),
        (555, 1205), (535, 1205), (525, 1160), (430, 1165), (460, 1165), (405, 1170), (232, 1172), (348, 1220), (350, 1195), (390, 1210), (500, 1240), (515, 1240),
        (573, 1225), (612, 1222), (658, 1220), (670, 1222), (745, 1248), (290, 1245), (407, 1252), (460, 1262), (450, 1262), (400, 1280), (405, 1287), (460, 1305),
        (505, 1293), (610, 1285), (573, 1318), (400, 1323), (375, 1333), (695, 1388), (440, 1180), (470, 1200), (490, 1195)]
d_mln = [(268, 1105), (348, 1150), (313, 1165), (310, 1195), (285, 1207), (345, 1192), (377, 1190), (322, 1232), (420, 1222), (430, 1255), (460, 1218), (470, 1205),
         (467, 1065), (482, 1160), (490, 1175), (505, 1225), (510, 1110), (525, 1170), (543, 1150), (567, 1143), (578, 1160), (600, 1190), (643, 1187), (558, 1250),
         (608, 1038), (578, 1070), (312, 1320), (480, 1140)]
d_en = [(665, 1060), (797, 1060), (657, 1090), (678, 1135), (730, 1125), (745, 1150), (662, 1155)]
d_ba = [(232, 832), (235, 875), (250, 893), (268, 905), (282, 907), (308, 843), (322, 843), (305, 878), (320, 870), (348, 845), (365, 870), (413, 890), (420, 848),
        (463, 817), (478, 822), (345, 885), (345, 910), (350, 930), (325, 930), (310, 905), (405, 927), (315, 975), (315, 990), (270, 998), (395, 972), (378, 985),
        (365, 1000), (358, 1005), (420, 990), (440, 958), (345, 1010), (338, 1018), (320, 1033), (345, 1045), (420, 1025), (482, 1020), (435, 1085), (253, 1140), (562, 1013)]
d_ia = [(193, 563), (225, 718), (278, 737), (283, 790), (340, 808), (367, 838), (393, 830), (428, 838), (388, 853), (328, 865), (340, 887), (315, 900), (375, 910),
        (322, 932), (300, 947), (498, 867), (520, 858), (310, 935)]
d_angor = [(355, 855), (345, 948)]
d_greek = [(175, 658), (272, 610), (248, 698), (255, 745), (252, 758), (280, 765), (302, 780), (940, 483)]
d_hell = [(200, 575), (327, 707), (1033, 533), (1023, 578), (662, 840)]
d_roman = [(373, 653), (417, 745), (278, 835), (295, 775), (660, 660), (988, 487), (678, 950), (973, 932), (1280, 690)]
d_late = [(705, 722), (335, 1000)]
d_esq = [(405, 663), (418, 663), (477, 675), (477, 712), (375, 745), (355, 722), (353, 778), (308, 797), (538, 702), (427, 518)]
d_pla = [(357, 445), (443, 468), (293, 493), (263, 570), (308, 640), (350, 695), (722, 815)]
d_sant = [(627, 597), (500, 663), (512, 690), (560, 658), (572, 678), (570, 803), (350, 695)]
d_se34 = [(848, 757), (731, 860), (985, 920)]
d_se58 = [(658, 733), (753, 718), (905, 818), (905, 840), (930, 875), (925, 887), (948, 897), (1045, 926), (1060, 926), (1138, 943), (815, 1095), (677, 828)]
d_se1016 = [(878, 656), (822, 691), (812, 716), (765, 737), (762, 773), (898, 741), (1078, 762), (1155, 813), (1087, 858), (1140, 864), (883, 861), (903, 885), (918, 855),
            (931, 940), (995, 912), (760, 943), (683, 800), (695, 808), (683, 812), (528, 767)]
d_hull_pla = [(357, 445), (443, 468), (427, 518), (350, 695), (308, 640), (263, 570), (293, 493)]
d_hull_sant = [(627, 597), (307, 797), (570, 803)]
d_hull_esq = [(427, 518), (570, 803)]
d_labels = [("Corded_Ware", 170, 213), ("Central Europe\nBeaker/BA", 140, 397), ("HUN", 363, 400), ("GER", 227, 497), ("GRK", 790, 322), ("ITA_S", 889, 400), ("SIC", 868, 512),
            ("ITA_N", 610, 528), ("Aegean_BA", 1073, 643), ("Iberia_IA", 160, 686), ("SPA", 473, 763), ("BAS", 172, 843), ("Iberia_BA", 186, 961), ("Iberia_EN", 757, 1033),
            ("Iberia_MLN", 266, 1295), ("Iberia_CA", 608, 1343)]

ax_d = panel(672, 480, 1104, 967)
ax_d.set_xlim(6, 1302)
ax_d.set_ylim(1461, 0)
ax_d.set_xticks([])
ax_d.set_yticks([])
frame(ax_d, '#555555', 1.1)
for nm, hull, fc, ec, alpha, z in d_regions:
    p = Polygon(hull, closed=True, facecolor=fc, edgecolor=ec, lw=1.0, zorder=z)
    if fc != 'none':
        p.set_alpha(alpha)
    ax_d.add_patch(p)
ax_d.add_patch(Polygon(d_hull_pla, closed=True, fc='none', ec='#222222', lw=0.8, zorder=3))
ax_d.add_patch(Polygon(d_hull_sant, closed=True, fc='none', ec='#222222', lw=0.8, zorder=3))
ax_d.plot(*zip(*d_hull_esq), color='#222222', lw=0.8, zorder=3)
ax_d.plot([427, 350], [518, 695], color='#555555', lw=1.6, zorder=3)
ms_d = 5.6
mark(ax_d, 'ba', d_ba, ms_d)
mark(ax_d, 'ia', d_ia, ms_d)
mark(ax_d, 'angor', d_angor, ms_d)
mark(ax_d, 'ca', d_ca, ms_d)
mark(ax_d, 'mln', d_mln, ms_d + 0.8)
mark(ax_d, 'en', d_en, ms_d + 0.8)
mark(ax_d, 'greek', d_greek, ms_d, mew=0.7)
mark(ax_d, 'hell', d_hell, ms_d)
mark(ax_d, 'roman', d_roman, ms_d + 0.6)
mark(ax_d, 'late', d_late, ms_d)
mark(ax_d, 'esq', d_esq, ms_d)
mark(ax_d, 'pla', d_pla, ms_d)
mark(ax_d, 'sant', d_sant, ms_d + 0.6)
mark(ax_d, 'se34', d_se34, ms_d + 0.6)
mark(ax_d, 'se58', d_se58, ms_d)
mark(ax_d, 'se1016', d_se1016, ms_d)
for txt, lx, ly in d_labels:
    ax_d.text(lx, ly, txt, ha='center', va='center', fontsize=8.8, color='#222222', linespacing=1.2, zorder=8)
ax_d.text(565, 980, 'I7162', ha='center', va='center', fontsize=10.5, color='#222222', zorder=8)
ax_d.plot([215, 262], [848, 865], color='#222222', lw=0.8, zorder=7)

# ---------- panel E, schematic (page pixels)
ax_e = panel(0, 730, 670, 1000)
ax_e.set_xlim(0, 670)
ax_e.set_ylim(1000, 730)
ax_e.axis('off')
ax_e.patch.set_alpha(0)
E_PALE, E_PURPLE, E_RED, E_PINK, E_ORANGE, E_BLUE, E_GREEN, E_LGREEN = '#e490bf', '#a845a0', '#ee2b3c', '#e8208c', '#fbab2b', '#12a0dc', '#66bb50', '#95c86a'


def band(x0, x1, y0, y1, col, z=2):
    ax_e.add_patch(Rectangle((x0, y0), x1 - x0, y1 - y0, fc=col, ec='none', zorder=z))


def arm(p0, p1, width, col, z=2):
    ax_e.plot([p0[0], p1[0]], [p0[1], p1[1]], color=col, lw=width * 0.72, solid_capstyle='round', zorder=z)


def ring(cx, cy, rx0, ry0, rx1, ry1, a0, a1, col, z=1.5):
    t = np.radians(np.linspace(a0, a1, 40))
    outer = np.column_stack([cx + rx1 * np.cos(t), cy + ry1 * np.sin(t)])
    inner = np.column_stack([cx + rx0 * np.cos(t[::-1]), cy + ry0 * np.sin(t[::-1])])
    ax_e.add_patch(Polygon(np.vstack([outer, inner]), closed=True, fc=col, ec='none', zorder=z))


ax_e.add_patch(Ellipse((88, 844), 40, 69.2, fc=E_PALE, ec='none', zorder=1))
fade = LinearSegmentedColormap.from_list('fade', [E_PALE, E_PALE, E_PURPLE])
ax_e.imshow(np.linspace(0, 1, 64).reshape(1, -1), cmap=fade, extent=(88, 137, 878.6, 809.4), aspect='auto', zorder=1.2)
ax_e.set_xlim(0, 670)
ax_e.set_ylim(1000, 730)
band(137, 519, 809.4, 878.6, E_PURPLE)
band(184, 261, 809.4, 872, E_RED)
band(261, 472, 809.4, 857, E_RED)
band(261, 519, 857, 870, E_PINK)
band(393, 519, 809.4, 838, E_ORANGE, 2.2)
band(472, 519, 838, 858, E_RED, 2.2)
band(393, 472, 838, 842, E_RED, 2.2)
band(519, 547, 817.8, 840, E_ORANGE)
band(519, 547, 840, 862, E_RED)
band(519, 547, 862, 866, E_PINK)
band(519, 547, 866, 872, E_BLUE)
band(547, 577, 825.6, 841.5, E_ORANGE)
band(547, 577, 841.5, 858, E_RED)
band(547, 577, 858, 861, E_PINK)
band(547, 577, 861, 865, E_BLUE)
band(577, 650, 825.6, 841.5, E_ORANGE)
band(577, 650, 841.5, 854, E_RED)
band(577, 650, 854, 857.7, E_PINK)
band(577, 650, 857.7, 861, E_GREEN)
band(577, 650, 861, 865, E_BLUE)
ax_e.add_patch(Ellipse((650, 845.3), 7, 39.4, fc='#f7c46a', ec='none', zorder=2.5))
arm((126, 765), (143, 830), 21, E_PURPLE)
arm((182, 764), (195, 852), 38, E_RED, 2.3)
arm((387, 777), (404, 830), 25, E_ORANGE, 2.3)
arm((457, 770), (476, 815), 17, E_ORANGE, 2.3)
arm((271, 872), (252, 914), 15, E_PURPLE, 1.8)
arm((521, 865), (494, 896), 13, E_BLUE, 1.8)
arm((528, 892), (502, 921), 11, E_GREEN, 1.2)
arm((575, 865), (566, 892), 11, E_GREEN, 1.8)
arm((571, 933), (563, 953), 11, E_GREEN, 1.2)
# Basque branch
band(555, 650, 771.2, 782, E_ORANGE)
band(555, 650, 782, 787.5, E_RED)
band(555, 650, 787.5, 791.5, E_PINK)
ax_e.add_patch(Ellipse((650, 781.3), 5, 20, fc='#f7c46a', ec='none', zorder=2.5))
ring(555, 811, 47, 29, 57, 40, 180, 270, E_ORANGE)
ring(555, 811, 44, 24, 47, 29, 180, 270, E_RED)
ring(555, 811, 42, 20, 44, 24, 180, 270, E_PINK)
# southern branch
ring(575, 872, 28, 38, 32, 43, 90, 180, E_ORANGE)
ring(575, 872, 32, 43, 35, 47, 90, 180, E_RED)
ring(575, 872, 35, 47, 37, 49, 90, 180, E_PINK)
ring(575, 872, 37, 49, 41, 53, 90, 180, E_BLUE)
ring(575, 872, 41, 53, 47, 57, 90, 180, E_LGREEN)
band(575, 626, 910, 915, E_ORANGE)
band(575, 626, 915, 921, E_RED)
band(575, 626, 921, 923, E_PINK)
band(575, 626, 923, 925, E_BLUE)
band(575, 626, 925, 929, E_GREEN)
ax_e.add_patch(Ellipse((626, 919.5), 5, 19, fc='#e8a060', ec='none', zorder=2.5))
ax_e.add_patch(Ellipse((535, 758), 44, 28, fc='white', ec='#1ca4d8', lw=1.8, zorder=3))
ax_e.add_patch(Ellipse((533, 927), 50, 28, fc='white', ec='#1ca4d8', lw=1.8, zorder=3))
ax_e.text(535, 758, 'Basque\nregion', ha='center', va='center', fontsize=7.4, fontweight='bold', linespacing=1.1, zorder=4)
ax_e.text(533, 927, 'Southern\nIberia', ha='center', va='center', fontsize=7.4, fontweight='bold', linespacing=1.1, zorder=4)

e_boxes = [("Neolithic farmers\nintroduce\nAnatolian-related\nancestry", 244, 770, 7.2), ("Central European\npopulations\nintroduce\nsteppe-related\nancestry", 333, 770, 7.2),
           ("Additional gene flow from\nCentral/Northern Europe", 447, 751, 7.2), ("Genetic continuity\nsince the Iron Age in\nthe Basque region", 607, 751, 7.2),
           ("Ancestry related to\ncentral European\nhunter-gatherers\ninto the northwest", 135, 906, 7.2), ("Increase in ancestry\nrelated to Mesolithic\nhunter-gatherers", 237, 940, 7.2),
           ("Sporadic contacts\nwith North Africa", 339, 939, 7.2), ("Ancestry related to\ncentral/eastern\nMediterranean populations", 435, 897, 6.4),
           ("North African ancestry\nin the south since the\nRoman Period", 447, 936, 7.2), ("Christian\nkingdoms move\nsouth and conquer\nMuslim territories", 606, 884, 4.8),
           ("Gene flow from North Africa due to\nthe Muslim conquest (711 CE)", 476, 974, 7.2), ("Expulsion of the\nMuslim population", 619, 957, 7.2)]
for txt, bx, by, fs in e_boxes:
    ax_e.text(bx, by, txt, ha='center', va='center', fontsize=fs, color='#222222', linespacing=1.2, zorder=5,
              bbox=dict(boxstyle='square,pad=0.25', fc='white', ec='#222222', lw=0.9))
for gx in [359, 369]:
    ax_e.annotate('', xy=(gx, 880), xytext=(gx, 926), zorder=4,
                  arrowprops=dict(arrowstyle='-|>', color=E_GREEN, lw=1.8, shrinkA=0, shrinkB=0, mutation_scale=9))
e_arrows = [((545, 963), (566, 892)), ((559, 962), (571, 955)), ((580, 901), (580, 911)), ((592, 901), (592, 911)), ((603, 901), (603, 911)), ((615, 901), (615, 911)), ((617, 946), (623, 929))]
for start, end in e_arrows:
    ax_e.annotate('', xy=end, xytext=start, zorder=6,
                  arrowprops=dict(arrowstyle='-|>', color='k', lw=1.0, shrinkA=0, shrinkB=0, mutation_scale=6))

# ---------- page level text, key and connecting lines
ov = fig.add_axes([0, 0, 1, 1], zorder=10)
ov.set_xlim(0, W)
ov.set_ylim(H, 0)
ov.axis('off')
ov.patch.set_alpha(0)
for letter, lx, ly in [('A', 8, 10), ('B', 17, 497), ('C', 613, 37), ('D', 655, 489), ('E', 35, 752)]:
    ov.text(lx, ly, letter, ha='center', va='center', fontsize=17, fontweight='bold', color='#111111')
for a, b in [((747, 350), (672, 480)), ((892, 350), (925, 480)), ((747, 164), (722, 480)), ((892, 164), (1100, 478))]:
    ov.plot([a[0], b[0]], [a[1], b[1]], color='#333333', lw=0.8, dashes=(5, 4))
ov.text(863, 463, 'PC1', ha='center', va='center', fontsize=8.8, color='#222222')
ov.text(608, 247, 'PC2', ha='center', va='center', rotation=90, fontsize=8.8, color='#222222')
for i, txt in enumerate(c_key):
    ov.text(1079, 67 + i * 23.7, txt, ha='left', va='center', fontsize=8.75, color='#222222')

key_ne = [('greek', "Greek Empúries", 525), ('hell', "Hellenistic Empúries", 540), ('roman', "Roman Period\nEmpúries", 564),
          ('late', "Late Roman Period\nEmpúries", 595), ('esq', "6th–8th century CE\nL'Esquerda", 625), ('pla', "6th century CE\nPla de l'Horta", 655),
          ('sant', "8th–12th century CE\nSant Julià de Ramis", 685)]
key_se = [('se34', "3rd–4th century CE", 731), ('se58', "5th–8th century CE", 749), ('se1016', "10th–16th century CE", 767)]
key_pd = ["SPA, Spanish", "BAS, Basques", "ITA_N, North Italian", "ITA_S, South Italian", "SIC, Sicilian", "GRK,  Greek", "GER, German", "HUN, Hungarian"]
ov.text(1116, 507, 'Northeast Iberia historic', fontsize=8.8, fontweight='bold', va='center', color='#222222')
ov.text(1117, 715, 'Southeast Iberia historic', fontsize=8.8, fontweight='bold', va='center', color='#222222')
ov.text(1117, 790, 'Present-day', fontsize=8.8, fontweight='bold', va='center', color='#222222')
for kind, txt, ky in key_ne + key_se:
    mark(ov, kind, [(1120, ky)], 5)
    ov.text(1127, ky, txt, fontsize=8.8, va='center', color='#222222', linespacing=1.15)
for i, txt in enumerate(key_pd):
    ov.text(1120, 806 + i * 22.1, txt, fontsize=8.8, va='center', color='#222222')

fig.savefig('out.png', dpi=100)
